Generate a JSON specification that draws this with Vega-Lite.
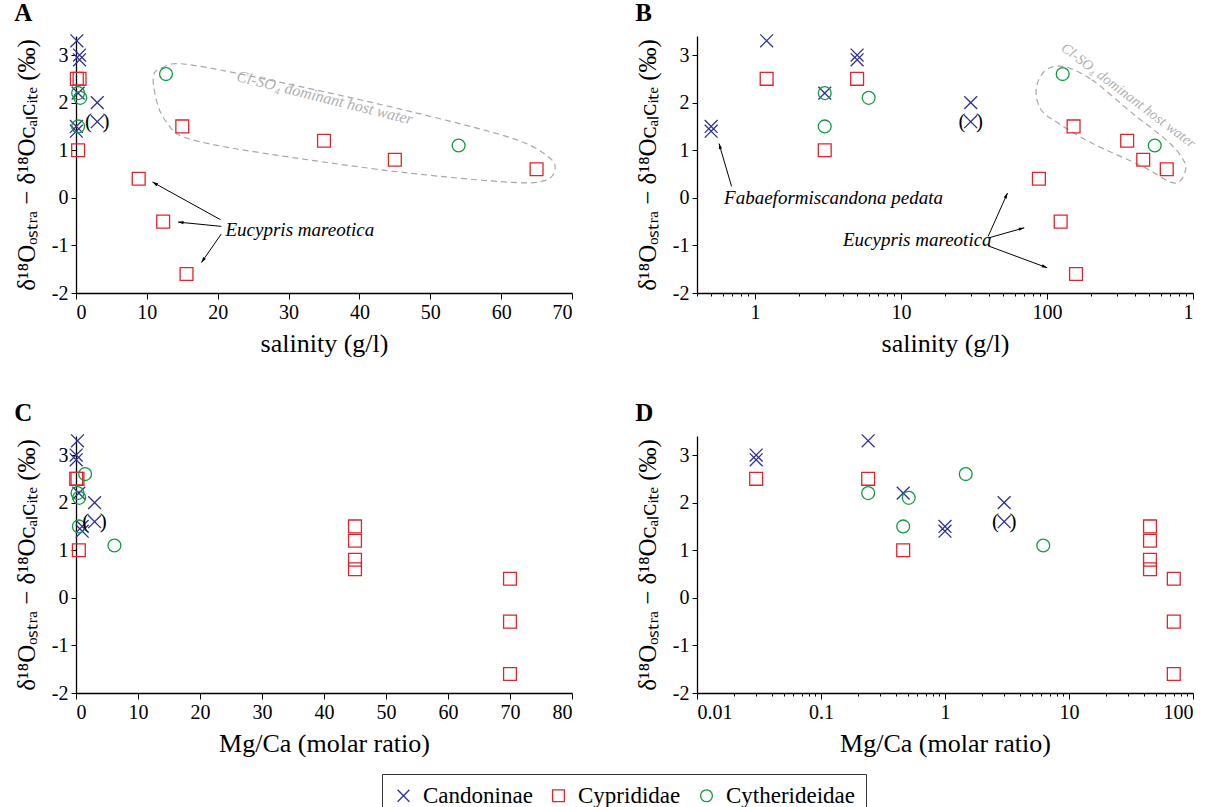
{
  "$schema": "https://vega.github.io/schema/vega-lite/v6.json",
  "background": "white",
  "padding": {"left": 14, "top": 0, "right": 2, "bottom": 0},
  "datasets": {
    "pts": [
      {"fam": "Candoninae", "salA": 0.12, "salB": 1.2, "mg": 0.24, "d": 3.3},
      {"fam": "Candoninae", "salA": 0.5, "salB": 5, "mg": 0.03, "d": 3.0},
      {"fam": "Candoninae", "salA": 0.5, "salB": 5, "mg": 0.03, "d": 2.9},
      {"fam": "Candoninae", "salA": 0.3, "salB": 3, "mg": 0.46, "d": 2.2},
      {"fam": "Candoninae", "salA": 0.05, "salB": 0.5, "mg": 1.0, "d": 1.5},
      {"fam": "Candoninae", "salA": 0.05, "salB": 0.5, "mg": 1.0, "d": 1.4},
      {"fam": "Candoninae", "salA": 3, "salB": 30, "mg": 3, "d": 2.0},
      {"fam": "Candoninae", "salA": 3, "salB": 30, "mg": 3, "d": 1.6, "p": true},
      {"fam": "Cyprididae", "salA": 0.12, "salB": 1.2, "mg": 0.24, "d": 2.5},
      {"fam": "Cyprididae", "salA": 0.5, "salB": 5, "mg": 0.03, "d": 2.5},
      {"fam": "Cyprididae", "salA": 0.3, "salB": 3, "mg": 0.46, "d": 1.0},
      {"fam": "Cyprididae", "salA": 8.85, "salB": 88, "mg": 70, "d": 0.4},
      {"fam": "Cyprididae", "salA": 12.3, "salB": 124, "mg": 70, "d": -0.5},
      {"fam": "Cyprididae", "salA": 15.6, "salB": 158, "mg": 70, "d": -1.6},
      {"fam": "Cyprididae", "salA": 15.0, "salB": 152, "mg": 45, "d": 1.5},
      {"fam": "Cyprididae", "salA": 35, "salB": 354, "mg": 45, "d": 1.2},
      {"fam": "Cyprididae", "salA": 45, "salB": 456, "mg": 45, "d": 0.8},
      {"fam": "Cyprididae", "salA": 65, "salB": 661, "mg": 45, "d": 0.6},
      {"fam": "Cytherideidae", "salA": 12.7, "salB": 128, "mg": 1.47, "d": 2.6},
      {"fam": "Cytherideidae", "salA": 0.3, "salB": 3, "mg": 0.24, "d": 2.2},
      {"fam": "Cytherideidae", "salA": 0.6, "salB": 6, "mg": 0.51, "d": 2.1},
      {"fam": "Cytherideidae", "salA": 0.3, "salB": 3, "mg": 0.46, "d": 1.5},
      {"fam": "Cytherideidae", "salA": 54, "salB": 547, "mg": 6.2, "d": 1.1}
    ],
    "hullA": [
      {"i": 1, "x": 10.9, "y": 2.52}, {"i": 2, "x": 12.1, "y": 2.73}, {"i": 3, "x": 15.9, "y": 2.8},
      {"i": 4, "x": 30.3, "y": 2.38}, {"i": 5, "x": 47.0, "y": 1.82}, {"i": 6, "x": 61.4, "y": 1.26},
      {"i": 7, "x": 66.6, "y": 0.87}, {"i": 8, "x": 67.6, "y": 0.59}, {"i": 9, "x": 66.1, "y": 0.36},
      {"i": 10, "x": 61.4, "y": 0.325}, {"i": 11, "x": 47.0, "y": 0.52}, {"i": 12, "x": 32.7, "y": 0.8},
      {"i": 13, "x": 20.7, "y": 1.08}, {"i": 14, "x": 14.97, "y": 1.29}, {"i": 15, "x": 13.06, "y": 1.53},
      {"i": 16, "x": 11.6, "y": 1.92}
    ],
    "hullB": [
      {"i": 1, "x": 128.9, "y": 2.76}, {"i": 2, "x": 202.6, "y": 2.48}, {"i": 3, "x": 383.6, "y": 1.78},
      {"i": 4, "x": 653, "y": 1.22}, {"i": 5, "x": 830, "y": 0.87}, {"i": 6, "x": 890, "y": 0.59},
      {"i": 7, "x": 747, "y": 0.31}, {"i": 8, "x": 450, "y": 0.66}, {"i": 9, "x": 202.6, "y": 1.15},
      {"i": 10, "x": 119, "y": 1.57}, {"i": 11, "x": 91.2, "y": 1.85}, {"i": 12, "x": 84.2, "y": 2.27},
      {"i": 13, "x": 96.1, "y": 2.66}
    ],
    "arrows": [
      {"id": "a1", "tx": 20.4, "ty": -0.46, "hx": 10.8, "hy": 0.33},
      {"id": "a2", "tx": 20.5, "ty": -0.6, "hx": 14.4, "hy": -0.51},
      {"id": "a3", "tx": 20.5, "ty": -0.76, "hx": 17.7, "hy": -1.36},
      {"id": "b0", "tx": 0.69, "ty": 0.24, "hx": 0.566, "hy": 1.14},
      {"id": "b1", "tx": 39.5, "ty": -0.81, "hx": 53.6, "hy": 0.1},
      {"id": "b2", "tx": 39.5, "ty": -0.845, "hx": 69.8, "hy": -0.63},
      {"id": "b3", "tx": 39.5, "ty": -1.01, "hx": 100.3, "hy": -1.47}
    ],
    "notes": [
      {"panel": "A", "kind": "species", "x": 21.1, "y": -0.67, "t": "Eucypris mareotica"},
      {"panel": "A", "kind": "water", "x": 35.1, "y": 2.1, "t": "Cl-SO₄ dominant host water"},
      {"panel": "B", "kind": "species", "x": 4.0, "y": -0.89, "t": "Eucypris mareotica"},
      {"panel": "B", "kind": "species", "x": 0.613, "y": 0.0, "t": "Fabaeformiscandona pedata"},
      {"panel": "B", "kind": "water", "x": 360, "y": 2.14, "t": "Cl-SO₄ dominant host water"}
    ]
  },
  "config": {
    "view": {"stroke": null},
    "title": {"anchor": "start", "frame": "bounds", "fontSize": 25, "fontWeight": "bold", "font": "Liberation Serif", "offset": 6, "color": "black"},
    "axis": {"grid": false, "domainColor": "#000", "domainWidth": 1.3, "tickColor": "#000", "tickWidth": 1, "labelColor": "#000", "titleColor": "#000", "labelPadding": 3},
    "axisX": {"titlePadding": 8, "tickSize": 6},
    "axisY": {"titlePadding": 12, "tickSize": 5},
    "legend": {"orient": "none", "legendX": 306, "legendY": 738, "direction": "horizontal", "strokeColor": "#333", "padding": 10, "labelFont": "Liberation Serif", "labelFontSize": 23, "labelColor": "#000", "symbolSize": 140, "symbolStrokeWidth": 1.3, "columnPadding": 14, "labelOffset": 8}
  },
  "vconcat": [
    {
      "hconcat": [
        {
          "width": 496, "height": 257,
          "title": {"text": "A"},
          "layer": [
            {
              "data": {"name": "hullA"},
              "mark": {"type": "line", "interpolate": "cardinal-closed", "strokeDash": [6, 4], "color": "#a8a8a8", "strokeWidth": 1.2},
              "encoding": {
                "x": {"field": "x", "type": "quantitative", "scale": {"domain": [0, 70], "nice": false}},
                "y": {"field": "y", "type": "quantitative", "scale": {"domain": [-2, 3.4], "nice": false, "zero": false}},
                "order": {"field": "i", "type": "quantitative"}
              }
            },
            {
              "data": {"name": "notes"},
              "transform": [{"filter": "datum.panel == 'A' && datum.kind == 'water'"}],
              "mark": {"type": "text", "angle": 14, "fontStyle": "italic", "color": "#b0b0b0", "fontSize": 16, "font": "Liberation Serif"},
              "encoding": {
                "x": {"field": "x", "type": "quantitative", "scale": {"domain": [0, 70], "nice": false}},
                "y": {"field": "y", "type": "quantitative", "scale": {"domain": [-2, 3.4], "nice": false, "zero": false}},
                "text": {"field": "t"}
              }
            },
            {
              "data": {"name": "pts"},
              "mark": {"type": "point", "filled": false, "strokeWidth": 1.3, "size": 165, "opacity": 1},
              "encoding": {
                "x": {"field": "salA", "type": "quantitative", "scale": {"domain": [0, 70], "nice": false}, "axis": {"values": [0, 10, 20, 30, 40, 50, 60, 70], "title": "salinity (g/l)", "labelFont": "Liberation Serif", "titleFont": "Liberation Serif", "labelFontSize": 20, "titleFontSize": 26, "titleFontWeight": "normal"}},
                "y": {"field": "d", "type": "quantitative", "scale": {"domain": [-2, 3.4], "nice": false, "zero": false}, "axis": {"values": [-2, -1, 0, 1, 2, 3], "labelExpr": "'' + datum.value", "title": "δ¹⁸Oₒₛₜᵣₐ − δ¹⁸Oᴄₐₗᴄᵢₜₑ (‰)", "labelFont": "Liberation Serif", "titleFont": "Liberation Serif", "labelFontSize": 20, "titleFontSize": 25, "titleFontWeight": "normal"}},
                "shape": {"field": "fam", "type": "nominal", "title": null, "scale": {"domain": ["Candoninae", "Cyprididae", "Cytherideidae"], "range": ["M-1,-1L1,1M1,-1L-1,1", "square", "circle"]}},
                "color": {"field": "fam", "type": "nominal", "title": null, "scale": {"domain": ["Candoninae", "Cyprididae", "Cytherideidae"], "range": ["#2e3192", "#e2232a", "#109a45"]}}
              }
            },
            {
              "data": {"name": "pts"},
              "transform": [{"filter": "datum.p"}],
              "mark": {"type": "text", "text": "(\u00a0\u00a0)", "fontSize": 21, "font": "Liberation Serif", "color": "#000", "baseline": "middle"},
              "encoding": {
                "x": {"field": "salA", "type": "quantitative", "scale": {"domain": [0, 70], "nice": false}},
                "y": {"field": "d", "type": "quantitative", "scale": {"domain": [-2, 3.4], "nice": false, "zero": false}}
              }
            },
            {
              "data": {"name": "notes"},
              "transform": [{"filter": "datum.panel == 'A' && datum.kind == 'species'"}],
              "mark": {"type": "text", "align": "left", "baseline": "middle", "fontStyle": "italic", "fontSize": 19, "font": "Liberation Serif", "color": "#000"},
              "encoding": {
                "x": {"field": "x", "type": "quantitative", "scale": {"domain": [0, 70], "nice": false}},
                "y": {"field": "y", "type": "quantitative", "scale": {"domain": [-2, 3.4], "nice": false, "zero": false}},
                "text": {"field": "t"}
              }
            },
            {
              "data": {"name": "arrows"},
              "transform": [{"filter": "indexof(['a1','a2','a3'], datum.id) >= 0"}],
              "mark": {"type": "rule", "color": "#000", "strokeWidth": 1},
              "encoding": {
                "x": {"field": "tx", "type": "quantitative", "scale": {"domain": [0, 70], "nice": false}},
                "y": {"field": "ty", "type": "quantitative", "scale": {"domain": [-2, 3.4], "nice": false, "zero": false}},
                "x2": {"field": "hx"},
                "y2": {"field": "hy"}
              }
            },
            {
              "data": {"name": "arrows"},
              "transform": [{"filter": "datum.id == 'a1'"}],
              "mark": {"type": "point", "shape": "M0,0L-0.6,2L0.6,2Z", "filled": true, "color": "#000", "size": 30, "angle": 299, "opacity": 1},
              "encoding": {
                "x": {"field": "hx", "type": "quantitative", "scale": {"domain": [0, 70], "nice": false}},
                "y": {"field": "hy", "type": "quantitative", "scale": {"domain": [-2, 3.4], "nice": false, "zero": false}}
              }
            },
            {
              "data": {"name": "arrows"},
              "transform": [{"filter": "datum.id == 'a2'"}],
              "mark": {"type": "point", "shape": "M0,0L-0.6,2L0.6,2Z", "filled": true, "color": "#000", "size": 30, "angle": 275, "opacity": 1},
              "encoding": {
                "x": {"field": "hx", "type": "quantitative", "scale": {"domain": [0, 70], "nice": false}},
                "y": {"field": "hy", "type": "quantitative", "scale": {"domain": [-2, 3.4], "nice": false, "zero": false}}
              }
            },
            {
              "data": {"name": "arrows"},
              "transform": [{"filter": "datum.id == 'a3'"}],
              "mark": {"type": "point", "shape": "M0,0L-0.6,2L0.6,2Z", "filled": true, "color": "#000", "size": 30, "angle": 215, "opacity": 1},
              "encoding": {
                "x": {"field": "hx", "type": "quantitative", "scale": {"domain": [0, 70], "nice": false}},
                "y": {"field": "hy", "type": "quantitative", "scale": {"domain": [-2, 3.4], "nice": false, "zero": false}}
              }
            }
          ]
        },
        {
          "width": 496, "height": 257,
          "title": {"text": "B"},
          "layer": [
            {
              "data": {"name": "hullB"},
              "mark": {"type": "line", "interpolate": "cardinal-closed", "strokeDash": [6, 4], "color": "#a8a8a8", "strokeWidth": 1.2},
              "encoding": {
                "x": {"field": "x", "type": "quantitative", "scale": {"type": "log", "domain": [0.4, 1000], "nice": false}},
                "y": {"field": "y", "type": "quantitative", "scale": {"domain": [-2, 3.4], "nice": false, "zero": false}},
                "order": {"field": "i", "type": "quantitative"}
              }
            },
            {
              "data": {"name": "notes"},
              "transform": [{"filter": "datum.panel == 'B' && datum.kind == 'water'"}],
              "mark": {"type": "text", "angle": 37, "fontStyle": "italic", "color": "#b0b0b0", "fontSize": 14.5, "font": "Liberation Serif"},
              "encoding": {
                "x": {"field": "x", "type": "quantitative", "scale": {"type": "log", "domain": [0.4, 1000], "nice": false}},
                "y": {"field": "y", "type": "quantitative", "scale": {"domain": [-2, 3.4], "nice": false, "zero": false}},
                "text": {"field": "t"}
              }
            },
            {
              "data": {"name": "pts"},
              "mark": {"type": "point", "filled": false, "strokeWidth": 1.3, "size": 165, "opacity": 1},
              "encoding": {
                "x": {"field": "salB", "type": "quantitative", "scale": {"type": "log", "domain": [0.4, 1000], "nice": false}, "axis": {"values": [0.4, 0.5, 0.6, 0.7, 0.8, 0.9, 1, 2, 3, 4, 5, 6, 7, 8, 9, 10, 20, 30, 40, 50, 60, 70, 80, 90, 100, 200, 300, 400, 500, 600, 700, 800, 900, 1000], "labelExpr": "datum.value == 1 ? '1' : datum.value == 10 ? '10' : datum.value == 100 ? '100' : datum.value == 1000 ? '1' : ''", "labelOverlap": false, "tickSize": {"condition": {"test": "datum.value == 1 || datum.value == 10 || datum.value == 100 || datum.value == 1000", "value": 6}, "value": 3}, "title": "salinity (g/l)", "labelFont": "Liberation Serif", "titleFont": "Liberation Serif", "labelFontSize": 20, "titleFontSize": 26, "titleFontWeight": "normal"}},
                "y": {"field": "d", "type": "quantitative", "scale": {"domain": [-2, 3.4], "nice": false, "zero": false}, "axis": {"values": [-2, -1, 0, 1, 2, 3], "labelExpr": "'' + datum.value", "title": "δ¹⁸Oₒₛₜᵣₐ − δ¹⁸Oᴄₐₗᴄᵢₜₑ (‰)", "labelFont": "Liberation Serif", "titleFont": "Liberation Serif", "labelFontSize": 20, "titleFontSize": 25, "titleFontWeight": "normal"}},
                "shape": {"field": "fam", "type": "nominal", "title": null, "scale": {"domain": ["Candoninae", "Cyprididae", "Cytherideidae"], "range": ["M-1,-1L1,1M1,-1L-1,1", "square", "circle"]}},
                "color": {"field": "fam", "type": "nominal", "title": null, "scale": {"domain": ["Candoninae", "Cyprididae", "Cytherideidae"], "range": ["#2e3192", "#e2232a", "#109a45"]}}
              }
            },
            {
              "data": {"name": "pts"},
              "transform": [{"filter": "datum.p"}],
              "mark": {"type": "text", "text": "(\u00a0\u00a0)", "fontSize": 21, "font": "Liberation Serif", "color": "#000", "baseline": "middle"},
              "encoding": {
                "x": {"field": "salB", "type": "quantitative", "scale": {"type": "log", "domain": [0.4, 1000], "nice": false}},
                "y": {"field": "d", "type": "quantitative", "scale": {"domain": [-2, 3.4], "nice": false, "zero": false}}
              }
            },
            {
              "data": {"name": "notes"},
              "transform": [{"filter": "datum.panel == 'B' && datum.kind == 'species'"}],
              "mark": {"type": "text", "align": "left", "baseline": "middle", "fontStyle": "italic", "fontSize": 19, "font": "Liberation Serif", "color": "#000"},
              "encoding": {
                "x": {"field": "x", "type": "quantitative", "scale": {"type": "log", "domain": [0.4, 1000], "nice": false}},
                "y": {"field": "y", "type": "quantitative", "scale": {"domain": [-2, 3.4], "nice": false, "zero": false}},
                "text": {"field": "t"}
              }
            },
            {
              "data": {"name": "arrows"},
              "transform": [{"filter": "indexof(['b0','b1','b2','b3'], datum.id) >= 0"}],
              "mark": {"type": "rule", "color": "#000", "strokeWidth": 1},
              "encoding": {
                "x": {"field": "tx", "type": "quantitative", "scale": {"type": "log", "domain": [0.4, 1000], "nice": false}},
                "y": {"field": "ty", "type": "quantitative", "scale": {"domain": [-2, 3.4], "nice": false, "zero": false}},
                "x2": {"field": "hx"},
                "y2": {"field": "hy"}
              }
            },
            {
              "data": {"name": "arrows"},
              "transform": [{"filter": "datum.id == 'b0'"}],
              "mark": {"type": "point", "shape": "M0,0L-0.6,2L0.6,2Z", "filled": true, "color": "#000", "size": 30, "angle": 343, "opacity": 1},
              "encoding": {
                "x": {"field": "hx", "type": "quantitative", "scale": {"type": "log", "domain": [0.4, 1000], "nice": false}},
                "y": {"field": "hy", "type": "quantitative", "scale": {"domain": [-2, 3.4], "nice": false, "zero": false}}
              }
            },
            {
              "data": {"name": "arrows"},
              "transform": [{"filter": "datum.id == 'b1'"}],
              "mark": {"type": "point", "shape": "M0,0L-0.6,2L0.6,2Z", "filled": true, "color": "#000", "size": 30, "angle": 25, "opacity": 1},
              "encoding": {
                "x": {"field": "hx", "type": "quantitative", "scale": {"type": "log", "domain": [0.4, 1000], "nice": false}},
                "y": {"field": "hy", "type": "quantitative", "scale": {"domain": [-2, 3.4], "nice": false, "zero": false}}
              }
            },
            {
              "data": {"name": "arrows"},
              "transform": [{"filter": "datum.id == 'b2'"}],
              "mark": {"type": "point", "shape": "M0,0L-0.6,2L0.6,2Z", "filled": true, "color": "#000", "size": 30, "angle": 75, "opacity": 1},
              "encoding": {
                "x": {"field": "hx", "type": "quantitative", "scale": {"type": "log", "domain": [0.4, 1000], "nice": false}},
                "y": {"field": "hy", "type": "quantitative", "scale": {"domain": [-2, 3.4], "nice": false, "zero": false}}
              }
            },
            {
              "data": {"name": "arrows"},
              "transform": [{"filter": "datum.id == 'b3'"}],
              "mark": {"type": "point", "shape": "M0,0L-0.6,2L0.6,2Z", "filled": true, "color": "#000", "size": 30, "angle": 111, "opacity": 1},
              "encoding": {
                "x": {"field": "hx", "type": "quantitative", "scale": {"type": "log", "domain": [0.4, 1000], "nice": false}},
                "y": {"field": "hy", "type": "quantitative", "scale": {"domain": [-2, 3.4], "nice": false, "zero": false}}
              }
            }
          ]
        }
      ],
      "spacing": 62
    },
    {
      "hconcat": [
        {
          "width": 496, "height": 257,
          "title": {"text": "C"},
          "layer": [
            {
              "data": {"name": "pts"},
              "mark": {"type": "point", "filled": false, "strokeWidth": 1.3, "size": 165, "opacity": 1},
              "encoding": {
                "x": {"field": "mg", "type": "quantitative", "scale": {"domain": [0, 80], "nice": false}, "axis": {"values": [0, 10, 20, 30, 40, 50, 60, 70, 80], "title": "Mg/Ca (molar ratio)", "labelFont": "Liberation Serif", "titleFont": "Liberation Serif", "labelFontSize": 20, "titleFontSize": 26, "titleFontWeight": "normal"}},
                "y": {"field": "d", "type": "quantitative", "scale": {"domain": [-2, 3.4], "nice": false, "zero": false}, "axis": {"values": [-2, -1, 0, 1, 2, 3], "labelExpr": "'' + datum.value", "title": "δ¹⁸Oₒₛₜᵣₐ − δ¹⁸Oᴄₐₗᴄᵢₜₑ (‰)", "labelFont": "Liberation Serif", "titleFont": "Liberation Serif", "labelFontSize": 20, "titleFontSize": 25, "titleFontWeight": "normal"}},
                "shape": {"field": "fam", "type": "nominal", "title": null, "scale": {"domain": ["Candoninae", "Cyprididae", "Cytherideidae"], "range": ["M-1,-1L1,1M1,-1L-1,1", "square", "circle"]}},
                "color": {"field": "fam", "type": "nominal", "title": null, "scale": {"domain": ["Candoninae", "Cyprididae", "Cytherideidae"], "range": ["#2e3192", "#e2232a", "#109a45"]}}
              }
            },
            {
              "data": {"name": "pts"},
              "transform": [{"filter": "datum.p"}],
              "mark": {"type": "text", "text": "(\u00a0\u00a0)", "fontSize": 21, "font": "Liberation Serif", "color": "#000", "baseline": "middle"},
              "encoding": {
                "x": {"field": "mg", "type": "quantitative", "scale": {"domain": [0, 80], "nice": false}},
                "y": {"field": "d", "type": "quantitative", "scale": {"domain": [-2, 3.4], "nice": false, "zero": false}}
              }
            }
          ]
        },
        {
          "width": 496, "height": 257,
          "title": {"text": "D"},
          "layer": [
            {
              "data": {"name": "pts"},
              "mark": {"type": "point", "filled": false, "strokeWidth": 1.3, "size": 165, "opacity": 1},
              "encoding": {
                "x": {"field": "mg", "type": "quantitative", "scale": {"type": "log", "domain": [0.01, 100], "nice": false}, "axis": {"values": [0.01, 0.02, 0.03, 0.04, 0.05, 0.06, 0.07, 0.08, 0.09, 0.1, 0.2, 0.3, 0.4, 0.5, 0.6, 0.7, 0.8, 0.9, 1, 2, 3, 4, 5, 6, 7, 8, 9, 10, 20, 30, 40, 50, 60, 70, 80, 90, 100], "labelExpr": "datum.value == 0.01 ? '0.01' : datum.value == 0.1 ? '0.1' : datum.value == 1 ? '1' : datum.value == 10 ? '10' : datum.value == 100 ? '100' : ''", "labelOverlap": false, "tickSize": {"condition": {"test": "datum.value == 0.01 || datum.value == 0.1 || datum.value == 1 || datum.value == 10 || datum.value == 100", "value": 6}, "value": 3}, "title": "Mg/Ca (molar ratio)", "labelFont": "Liberation Serif", "titleFont": "Liberation Serif", "labelFontSize": 20, "titleFontSize": 26, "titleFontWeight": "normal"}},
                "y": {"field": "d", "type": "quantitative", "scale": {"domain": [-2, 3.4], "nice": false, "zero": false}, "axis": {"values": [-2, -1, 0, 1, 2, 3], "labelExpr": "'' + datum.value", "title": "δ¹⁸Oₒₛₜᵣₐ − δ¹⁸Oᴄₐₗᴄᵢₜₑ (‰)", "labelFont": "Liberation Serif", "titleFont": "Liberation Serif", "labelFontSize": 20, "titleFontSize": 25, "titleFontWeight": "normal"}},
                "shape": {"field": "fam", "type": "nominal", "title": null, "scale": {"domain": ["Candoninae", "Cyprididae", "Cytherideidae"], "range": ["M-1,-1L1,1M1,-1L-1,1", "square", "circle"]}},
                "color": {"field": "fam", "type": "nominal", "title": null, "scale": {"domain": ["Candoninae", "Cyprididae", "Cytherideidae"], "range": ["#2e3192", "#e2232a", "#109a45"]}}
              }
            },
            {
              "data": {"name": "pts"},
              "transform": [{"filter": "datum.p"}],
              "mark": {"type": "text", "text": "(\u00a0\u00a0)", "fontSize": 21, "font": "Liberation Serif", "color": "#000", "baseline": "middle"},
              "encoding": {
                "x": {"field": "mg", "type": "quantitative", "scale": {"type": "log", "domain": [0.01, 100], "nice": false}},
                "y": {"field": "d", "type": "quantitative", "scale": {"domain": [-2, 3.4], "nice": false, "zero": false}}
              }
            }
          ]
        }
      ],
      "spacing": 62
    }
  ],
  "spacing": 44
}
